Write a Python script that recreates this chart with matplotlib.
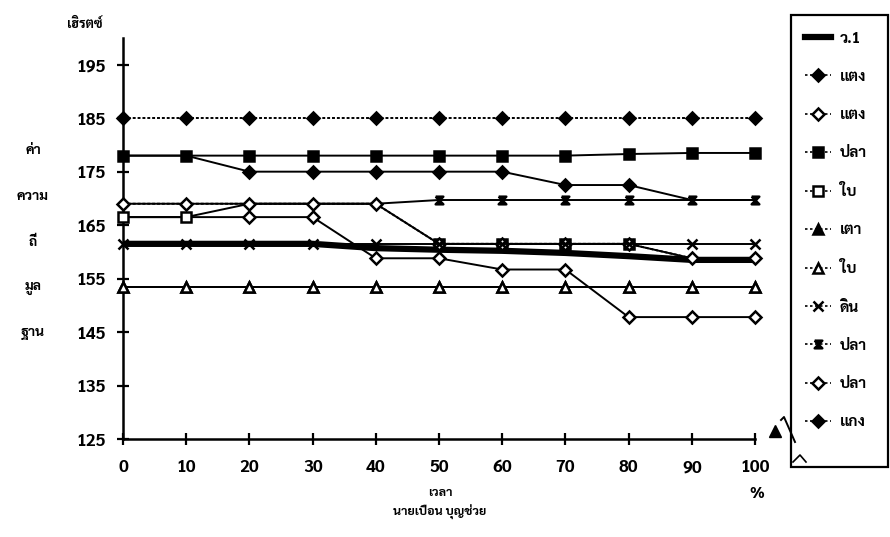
import matplotlib
matplotlib.use("Agg")
import matplotlib.pyplot as plt
from matplotlib import font_manager
from matplotlib.lines import Line2D
from matplotlib.patches import Rectangle

# pick a font that has Thai glyphs
_names = {f.name for f in font_manager.fontManager.ttflist}
THAI = next((n for n in ["Sarabun", "Noto Sans Thai", "Anuphan", "Bai Jamjuree"] if n in _names), "DejaVu Sans")
plt.rcParams["font.family"] = [THAI, "DejaVu Sans"]

# ---- data ----
x = [0, 10, 20, 30, 40, 50, 60, 70, 80, 90, 100]
v1 = [161.5, 161.5, 161.5, 161.5, 160.7, 160.4, 160.2, 159.8, 159.2, 158.5, 158.5]
taeng_fill = [185, 185, 185, 185, 185, 185, 185, 185, 185, 185, 185]
taeng_open = [169, 169, 169, 169, 169, 161.5, 161.5, 161.5, 161.5, 158.8, 158.8]
pla_sq = [178, 178, 178, 178, 178, 178, 178, 178, 178.3, 178.5, 178.5]
bai_sq = [166.5, 166.5, 169, 169, 169, 161.5, 161.5, 161.5, 161.5, 158.8, 158.8]
tao_tri = [153.5, 153.5, 153.5, 153.5, 153.5, 153.5, 153.5, 153.5, 153.5, 153.5, 153.5]
bai_tri = [153.5, 153.5, 153.5, 153.5, 153.5, 153.5, 153.5, 153.5, 153.5, 153.5, 153.5]
din_x = [161.5, 161.5, 161.5, 161.5, 161.5, 161.5, 161.5, 161.5, 161.5, 161.5, 161.5]
pla_hour = [169, 169, 169, 169, 169, 169.7, 169.7, 169.7, 169.7, 169.7, 169.7]
pla_open = [166.5, 166.5, 166.5, 166.5, 158.8, 158.8, 156.7, 156.7, 147.8, 147.8, 147.8]
kaeng = [178, 178, 175, 175, 175, 175, 175, 172.5, 172.5, 169.7, 169.7]

labels = ["ว.1", "แตง", "แตง", "ปลา", "ใบ", "เตา", "ใบ", "ดิน", "ปลา", "ปลา", "แกง"]
yticks = [125, 135, 145, 155, 165, 175, 185, 195]
side_words = ["ค่า", "ความ", "ถี่", "มูล", "ฐาน"]

HOUR = [(-1, 1), (1, 1), (-1, -1), (1, -1), (-1, 1)]  # hourglass marker
K = "black"
MS = 7
DOT = (0, (1.5, 1))
ALL = list(range(len(x)))

fig = plt.figure(figsize=(8.9, 5.37), dpi=100, facecolor="white")
ax = fig.add_axes([123 / 890, 1 - 439 / 537, (755 - 123) / 890, (439 - 38) / 537])

# (series, marker, face, linestyle, zorder, which markers show on the scan)
styles = [
    (taeng_fill, "D", K, DOT, 3, ALL),
    (taeng_open, "D", "white", DOT, 3.2, ALL),
    (pla_sq, "s", K, "-", 3, ALL),
    (bai_sq, "s", "white", "-", 3, [0, 1, 5, 6, 7, 8]),
    (tao_tri, "^", K, "-", 2, ALL),
    (bai_tri, "^", "white", "-", 3, ALL),
    (din_x, "x", K, "-", 4, ALL),
    (pla_hour, HOUR, K, "-", 1.5, [5, 6, 7, 8, 9, 10]),
    (pla_open, "D", "white", "-", 2, [2, 3, 4, 5, 6, 7, 8, 9, 10]),
    (kaeng, "D", K, "-", 2, [2, 3, 4, 5, 6, 7, 8]),
]

ax.plot(x, v1, color=K, lw=4.5, solid_capstyle="butt", zorder=2.5)
handles = [Line2D([], [], color=K, lw=4.5)]
for ys, mk, fc, ls, z, every in styles:
    ms = MS - 1 if mk == "D" else MS
    if mk == "x":
        ms = MS
    if mk is HOUR:
        ms = MS - 1.5
    ax.plot(x, ys, color=K, lw=1.4, ls=ls, marker=mk, ms=ms, markevery=every,
            mfc=fc, mec=K, mew=1.8, zorder=z)
    handles.append(Line2D([], [], color=K, lw=1.2, ls=(0, (1.5, 1.5)), marker=mk,
                          ms=ms, mfc=fc, mec=K, mew=1.8))

ax.set_xlim(0, 100)
ax.set_ylim(125, 200)
ax.set_xticks(x)
ax.set_yticks(yticks)
for s in ("top", "right"):
    ax.spines[s].set_visible(False)
for s in ("left", "bottom"):
    ax.spines[s].set_linewidth(1.8)
ax.tick_params(direction="inout", length=9, width=1.6, labelsize=12.5)
ax.tick_params(axis="y", pad=8)
ax.tick_params(axis="x", pad=10)
for t in ax.get_xticklabels() + ax.get_yticklabels():
    t.set_fontweight("bold")
for ln in ax.lines:
    ln.set_clip_on(False)

# axis texts
fig.text(85 / 890, 1 - 24 / 537, "เฮิรตซ์", ha="center", va="center", fontsize=9.5, fontweight="bold")
for i, w in enumerate(side_words):
    fig.text(33 / 890, 1 - (150 + 46 * i) / 537, w, ha="center", va="center",
             fontsize=10, fontweight="bold")
fig.text(440 / 890, 1 - 493 / 537, "เวลา", ha="center", va="center", fontsize=9, fontweight="bold")
fig.text(440 / 890, 1 - 512 / 537, "นายเปือน บุญช่วย", ha="center", va="center",
         fontsize=9, fontweight="bold")
fig.text(757 / 890, 1 - 494 / 537, "%", ha="center", va="center", fontsize=11, fontweight="bold")

# legend box
fig.patches.append(Rectangle((791 / 890, 1 - 467 / 537), 97 / 890, 452 / 537,
                             transform=fig.transFigure, fill=False, ec=K, lw=1.6))
leg = fig.legend(handles, labels, loc="upper left", bbox_to_anchor=(797 / 890, 1 - 24 / 537),
                 frameon=False, handlelength=1.7, handletextpad=0.6,
                 labelspacing=1.58, borderpad=0, prop={"weight": "bold", "size": 11})

# stray pen marks near the legend
fig.add_artist(Line2D([781 / 890, 784 / 890, 795 / 890], [1 - 420 / 537, 1 - 417 / 537, 1 - 442 / 537],
                      color=K, lw=1.4))
fig.add_artist(Line2D([775 / 890], [1 - 431 / 537], marker="^", ms=8, color=K))
fig.add_artist(Line2D([793 / 890, 800 / 890, 806 / 890], [1 - 462 / 537, 1 - 455 / 537, 1 - 462 / 537],
                      color=K, lw=1.2))

fig.savefig("out.png", dpi=100, facecolor="white")
